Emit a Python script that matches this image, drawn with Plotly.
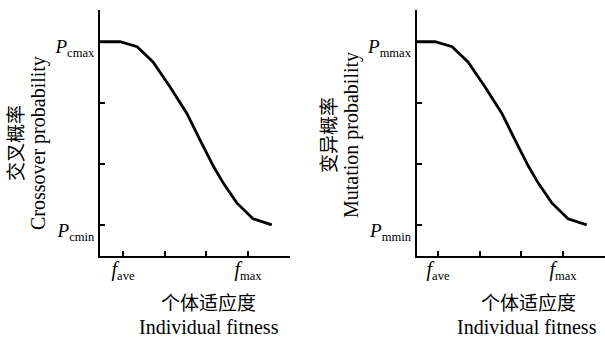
import plotly.graph_objects as go
from plotly.subplots import make_subplots

# Data
fitness = [0.45, 0.93, 1.34, 1.72, 2.13, 2.53, 2.85, 3.17, 3.41, 3.73, 4.12, 4.57]
crossover_prob = [4.0, 4.0, 3.92, 3.67, 3.26, 2.83, 2.39, 1.96, 1.68, 1.36, 1.10, 1.0]
mutation_prob = [4.0, 4.0, 3.92, 3.67, 3.26, 2.83, 2.39, 1.96, 1.68, 1.36, 1.10, 1.0]

SUB = "<span style='font-size:12.5px'>{}</span>"
x_tickvals = [1, 2, 3, 4]
x_ticktext = ["<i>f</i><sub>" + SUB.format("ave") + "</sub>", "", "",
              "<i>f</i><sub>" + SUB.format("max") + "</sub>"]
y_tickvals = [1, 2, 3, 4]
y_ticktext_c = ["<i>P</i><sub>" + SUB.format("cmin") + "</sub>", "", "",
                "<i>P</i><sub>" + SUB.format("cmax") + "</sub>"]
y_ticktext_m = ["<i>P</i><sub>" + SUB.format("mmin") + "</sub>", "", "",
                "<i>P</i><sub>" + SUB.format("mmax") + "</sub>"]

W, H = 605, 340
FONT = "Liberation Serif, 'Times New Roman', 'Noto Sans CJK SC', serif"

fig = make_subplots(rows=1, cols=2)
fig.add_trace(go.Scatter(x=fitness, y=crossover_prob, mode="lines",
                         line=dict(color="black", width=2.8), cliponaxis=True,
                         showlegend=False), row=1, col=1)
fig.add_trace(go.Scatter(x=fitness, y=mutation_prob, mode="lines",
                         line=dict(color="black", width=2.8), cliponaxis=True,
                         showlegend=False), row=1, col=2)

ydom = [(H - 256) / H, (H - 10) / H]
common_x = dict(showgrid=False, zeroline=False, showline=True, linecolor="black",
                linewidth=2, ticks="inside", ticklen=5, tickwidth=1.5, tickcolor="black",
                tickvals=x_tickvals, ticklabelstandoff=-6,
                tickfont=dict(family=FONT, size=20, color="black"))
common_y = dict(showgrid=False, zeroline=False, showline=True, linecolor="black",
                linewidth=2, ticks="inside", ticklen=5, tickwidth=1.5, tickcolor="black",
                tickvals=y_tickvals, range=[0.49, 4.52], domain=ydom,
                ticklabelshift=5,
                tickfont=dict(family=FONT, size=19, color="black"))

fig.update_xaxes(**common_x, ticktext=x_ticktext, domain=[100 / W, 290 / W],
                 range=[1 - 23 / 41.7, 4 + 42 / 41.7], row=1, col=1)
fig.update_xaxes(**common_x, ticktext=x_ticktext, domain=[416.7 / W, 1.0],
                 range=[1 - 21.3 / 41.7, 4 + 42 / 41.7], row=1, col=2)
fig.update_yaxes(**common_y, ticktext=y_ticktext_c, row=1, col=1)
fig.update_yaxes(**common_y, ticktext=y_ticktext_m, row=1, col=2)

def ann(text, x, y, size, angle=0):
    fig.add_annotation(text=text, x=x / W, y=1 - y / H, xref="paper", yref="paper",
                       showarrow=False, textangle=angle, xanchor="center", yanchor="middle",
                       font=dict(family=FONT, size=size, color="black"))

ann("交叉概率", 16, 143, 19, -90)
ann("Crossover probability", 38, 143, 20, -90)
ann("变异概率", 330, 135, 19, -90)
ann("Mutation probability", 352, 135, 20, -90)
ann("个体适应度", 208, 303, 19)
ann("Individual fitness", 209, 327, 20)
ann("个体适应度", 528, 303, 19)
ann("Individual fitness", 527, 327, 20)

fig.update_layout(width=W, height=H, margin=dict(l=0, r=0, t=0, b=0),
                  plot_bgcolor="white", paper_bgcolor="white",
                  font=dict(family=FONT, color="black"))
fig.write_html("out.html", config={"displayModeBar": False},
               post_script="document.body.style.margin='0px';")
